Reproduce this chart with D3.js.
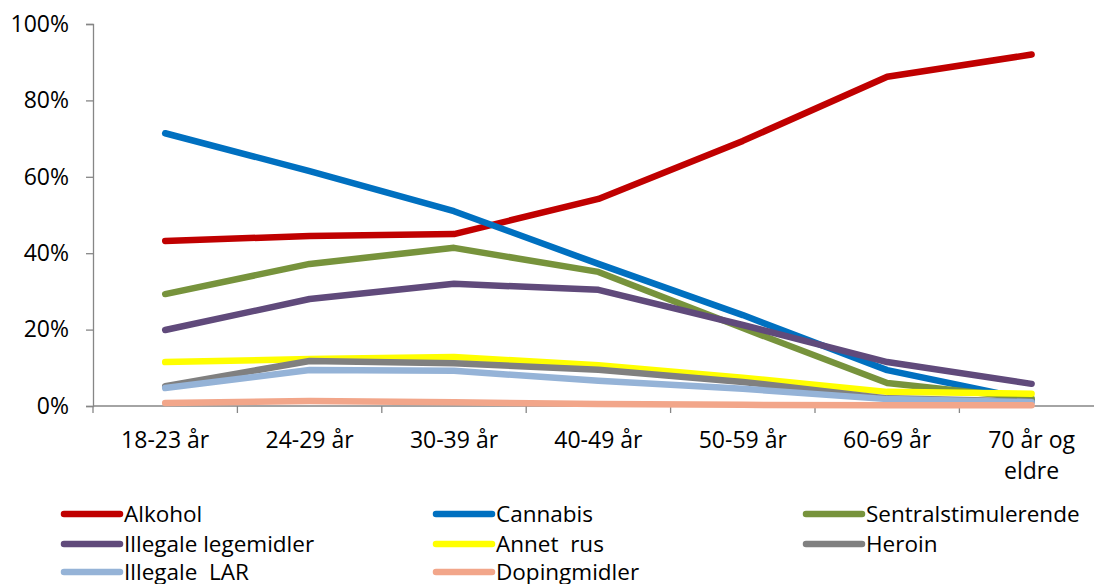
<!DOCTYPE html>
<html>
<head>
<meta charset="utf-8">
<script src="https://cdn.jsdelivr.net/npm/d3@7"></script>
<style>
  html, body { margin: 0; padding: 0; background: #fff; }
  svg text { font-family: "Open Sans", "DejaVu Sans", sans-serif; fill: #000; }
</style>
</head>
<body>
<div id="chart"></div>
<script>
// Age groups on the x axis
const categories = ['18-23 år', '24-29 år', '30-39 år', '40-49 år', '50-59 år', '60-69 år', '70 år og eldre'];

// Series values, percent of each age group
const alkohol      = [43.2, 44.5, 45.0, 54.2, 69.4, 86.2, 92.0];
const cannabis     = [71.4, 61.5, 51.0, 37.2, 23.8, 9.4, 1.5];
const sentral      = [29.3, 37.2, 41.4, 35.1, 20.4, 6.0, 2.0];
const illegaleLeg  = [19.9, 28.0, 32.0, 30.4, 21.2, 11.5, 5.8];
const annetRus     = [11.5, 12.3, 12.8, 10.7, 7.4, 3.7, 3.2];
const heroin       = [5.2, 11.8, 11.2, 9.5, 6.3, 2.0, 1.2];
const illegaleLAR  = [4.7, 9.4, 9.2, 6.6, 4.5, 1.8, 1.0];
const doping       = [0.8, 1.3, 1.0, 0.5, 0.3, 0.2, 0.2];

const seriesNames  = ['Alkohol', 'Cannabis', 'Sentralstimulerende', 'Illegale legemidler', 'Annet  rus', 'Heroin', 'Illegale  LAR', 'Dopingmidler'];
const seriesValues = [alkohol, cannabis, sentral, illegaleLeg, annetRus, heroin, illegaleLAR, doping];
const seriesColors = ['#C00000', '#0070C0', '#77933C', '#604A7B', '#FFFF00', '#808080', '#95B3D7', '#F2A68A'];

const yTicks = [0, 20, 40, 60, 80, 100];

const width = 1094, height = 584;
const plot = { left: 93, top: 24, bottom: 406, bandW: 144.4 };

const svg = d3.select('#chart').append('svg')
  .attr('width', width)
  .attr('height', height);

const x = d3.scaleBand()
  .domain(categories)
  .range([plot.left, plot.left + plot.bandW * categories.length])
  .padding(0);

const y = d3.scaleLinear()
  .domain([0, 100])
  .range([plot.bottom, plot.top]);

const axisColor = '#868686';

// Y axis
const yAxis = svg.append('g')
  .attr('transform', `translate(${plot.left},0)`)
  .call(d3.axisLeft(y).tickValues(yTicks).tickFormat(d => d + '%').tickSize(7).tickPadding(17));
yAxis.select('.domain').attr('stroke', axisColor).attr('stroke-width', 1.3);
yAxis.selectAll('.tick line').attr('stroke', axisColor).attr('stroke-width', 1.3);
yAxis.selectAll('.tick text').attr('font-size', 23).attr('fill', '#000')
  .style('font-family', '"Open Sans", sans-serif');

// X axis: line plus ticks between categories
const xAxis = svg.append('g');
xAxis.append('line')
  .attr('x1', x.range()[0]).attr('x2', x.range()[1])
  .attr('y1', plot.bottom).attr('y2', plot.bottom)
  .attr('stroke', axisColor).attr('stroke-width', 1.3);
xAxis.selectAll('line.tick')
  .data(categories.concat(['__end']))
  .enter().append('line')
  .attr('class', 'tick')
  .attr('x1', (d, i) => x.range()[0] + i * x.bandwidth())
  .attr('x2', (d, i) => x.range()[0] + i * x.bandwidth())
  .attr('y1', plot.bottom).attr('y2', plot.bottom + 7)
  .attr('stroke', axisColor).attr('stroke-width', 1.3);

// Category labels, wrapped like the original
const labelLines = { '70 år og eldre': ['70 år og', 'eldre'] };
xAxis.selectAll('text.cat')
  .data(categories)
  .enter().append('text')
  .attr('class', 'cat')
  .attr('text-anchor', 'middle')
  .attr('font-size', 23)
  .each(function(d) {
    const lines = labelLines[d] || [d];
    const t = d3.select(this);
    lines.forEach((ln, i) => {
      t.append('tspan')
        .attr('x', x(d) + x.bandwidth() / 2)
        .attr('y', 448 + i * 31)
        .text(ln);
    });
  });

// Lines
const line = d3.line()
  .x((d, i) => x(categories[i]) + x.bandwidth() / 2)
  .y(d => y(d));

svg.append('g')
  .selectAll('path')
  .data(seriesValues)
  .enter().append('path')
  .attr('d', d => line(d))
  .attr('fill', 'none')
  .attr('stroke', (d, i) => seriesColors[i])
  .attr('stroke-width', 6.5)
  .attr('stroke-linecap', 'round')
  .attr('stroke-linejoin', 'round');

// Legend, three columns
const legendCols = [64, 436, 806];
const legendRows = [514, 544, 572];
const legend = svg.append('g')
  .selectAll('g')
  .data(seriesNames)
  .enter().append('g')
  .attr('transform', (d, i) => `translate(${legendCols[i % 3]},${legendRows[Math.floor(i / 3)]})`);

legend.append('line')
  .attr('x1', 0).attr('x2', 56)
  .attr('y1', 0).attr('y2', 0)
  .attr('stroke', (d, i) => seriesColors[i])
  .attr('stroke-width', 6.5)
  .attr('stroke-linecap', 'round');

legend.append('text')
  .attr('x', 60)
  .attr('y', 8)
  .attr('font-size', 22.5)
  .style('white-space', 'pre')
  .attr('xml:space', 'preserve')
  .text(d => d);
</script>
</body>
</html>
